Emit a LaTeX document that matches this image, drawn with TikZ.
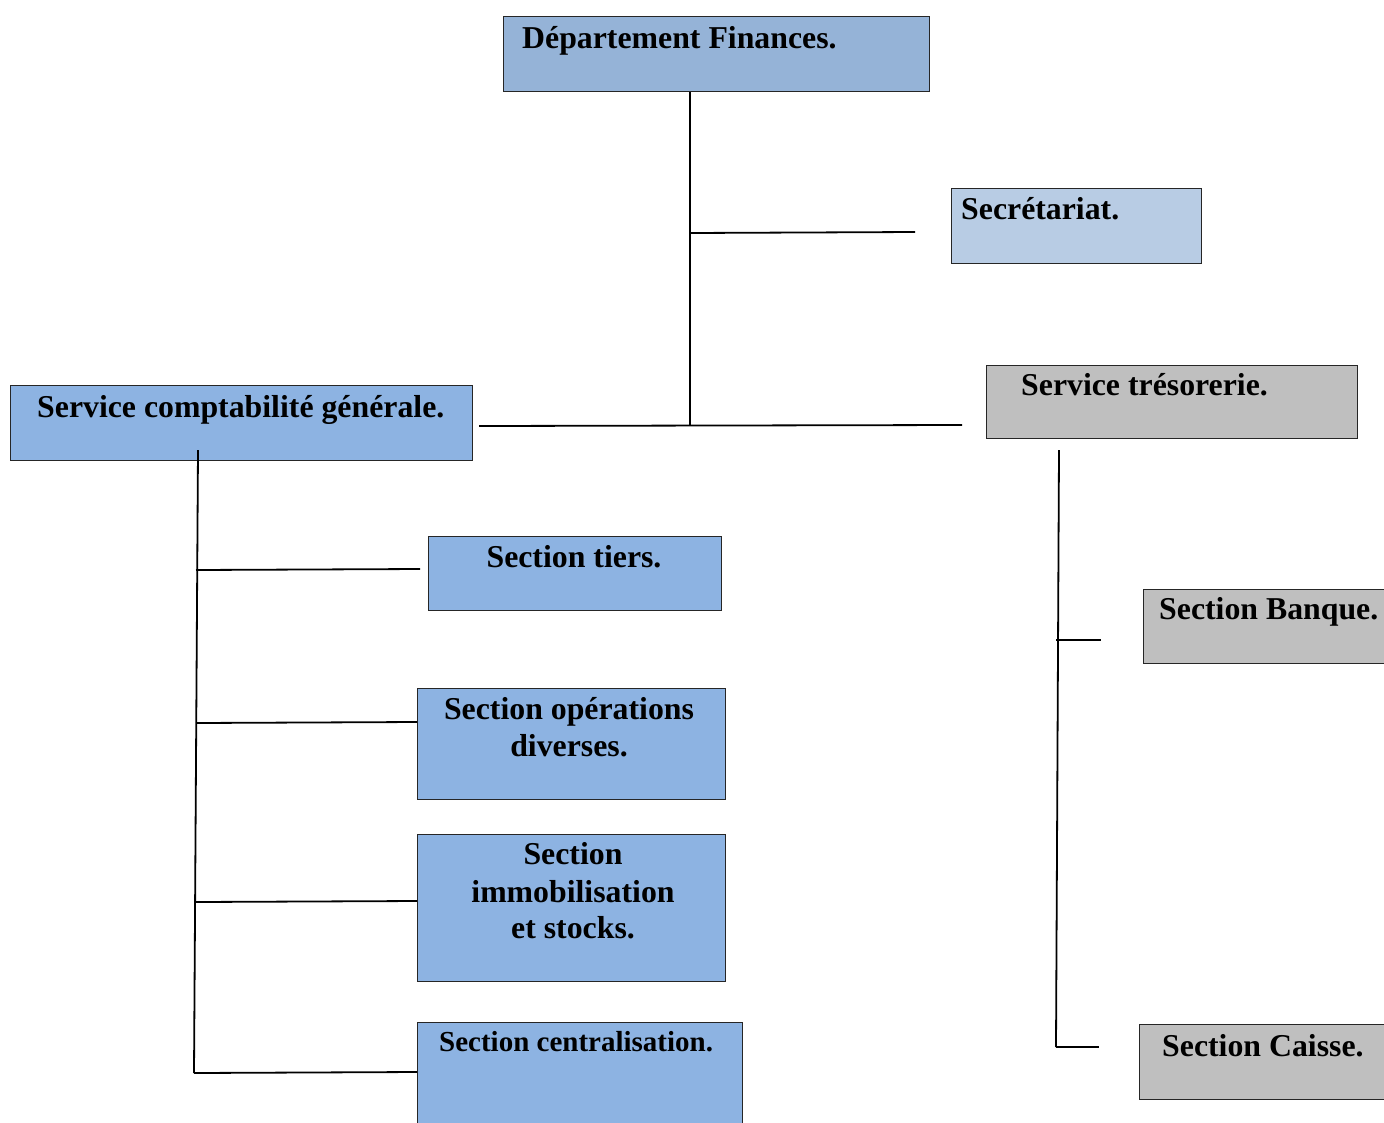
\documentclass[tikz,border=0pt]{standalone}
\usepackage{fontspec}
\setmainfont{Liberation Serif}
\begin{document}
\begin{tikzpicture}[x=1pt,y=-1pt,
  box/.style={draw=black!85, line width=1.3pt, anchor=north west, inner sep=0pt, rectangle},
  blue1/.style={box, fill={rgb,255:red,149;green,179;blue,215}},
  blue2/.style={box, fill={rgb,255:red,184;green,204;blue,228}},
  blue3/.style={box, fill={rgb,255:red,141;green,179;blue,226}},
  grey1/.style={box, fill={rgb,255:red,191;green,191;blue,191}},
  lbl/.style={font=\bfseries\fontsize{31.8}{38}\selectfont, anchor=base west, inner sep=0pt},
  lblc/.style={font=\bfseries\fontsize{31.8}{38}\selectfont, anchor=base, inner sep=0pt, align=center},
  conn/.style={line width=1.8pt, draw=black}]
\clip (0,0) rectangle (1384,1122);
\fill[white] (0,0) rectangle (1384,1122);
% boxes
\node[blue1, minimum width=426pt, minimum height=75pt] (dept) at (503,16) {};
\node[blue2, minimum width=250pt, minimum height=75pt] (secr) at (951,188) {};
\node[blue3, minimum width=462pt, minimum height=75pt] (compta) at (10,385) {};
\node[grey1, minimum width=371pt, minimum height=73pt] (treso) at (986,365) {};
\node[blue3, minimum width=293pt, minimum height=74pt] (tiers) at (428,536) {};
\node[blue3, minimum width=308pt, minimum height=111pt] (od) at (417,688) {};
\node[blue3, minimum width=308pt, minimum height=147pt] (immo) at (417,834) {};
\node[blue3, minimum width=325pt, minimum height=140pt] (centr) at (417,1022) {};
\node[grey1, minimum width=260pt, minimum height=74pt] (banque) at (1143,589) {};
\node[grey1, minimum width=260pt, minimum height=75pt] (caisse) at (1139,1024) {};
% labels
\node[lbl] (tdept) at (522,48) {Département Finances.};
\node[lbl] (tsecr) at (961,219) {Secrétariat.};
\node[lbl] (tcompta) at (37,417) {Service comptabilité générale.};
\node[lbl] (ttreso) at (1021,395) {Service trésorerie.};
\node[lblc] (ttiers) at (574,567) {Section tiers.};
\node[lblc] (tod1) at (569,719) {Section opérations};
\node[lblc] (tod2) at (569,756) {diverses.};
\node[lblc] (timmo1) at (573,864) {Section};
\node[lblc] (timmo2) at (573,902) {immobilisation};
\node[lblc] (timmo3) at (573,938) {et stocks.};
\node[lbl, font=\bfseries\fontsize{29}{34}\selectfont] (tcentr) at (439,1051) {Section centralisation.};
\node[lbl] (tbanque) at (1159,619) {Section Banque.};
\node[lbl] (tcaisse) at (1162,1056) {Section Caisse.};
% junction coordinates
\coordinate (j0) at (690,426);
\coordinate (jsec) at (690,233);
\coordinate (esec) at (915,232);
\coordinate (hl) at (479,426);
\coordinate (hr) at (962,425);
\coordinate (lt) at (198,450);
\coordinate (lb) at (194,1073);
\coordinate (l1) at (196,570);
\coordinate (e1) at (420,569);
\coordinate (l2) at (196,723);
\coordinate (l3) at (196,902);
\coordinate (rt) at (1059,450);
\coordinate (rb) at (1056,1047);
\coordinate (r1) at (1056,640);
\coordinate (e4) at (1101,640);
\coordinate (e5) at (1099,1047);
% connectors
\draw[conn] (dept.south -| j0) -- (j0);
\draw[conn] (jsec) -- (esec);
\draw[conn] (hl) -- (hr);
\draw[conn] (lt) -- (lb);
\draw[conn] (l1) -- (e1);
\draw[conn] (l2) -- (od.west |- 0,722);
\draw[conn] (l3) -- (immo.west |- 0,901);
\draw[conn] (lb) -- (centr.west |- 0,1072);
\draw[conn] (rt) -- (rb);
\draw[conn] (r1) -- (e4);
\draw[conn] (rb) -- (e5);
\end{tikzpicture}
\end{document}
